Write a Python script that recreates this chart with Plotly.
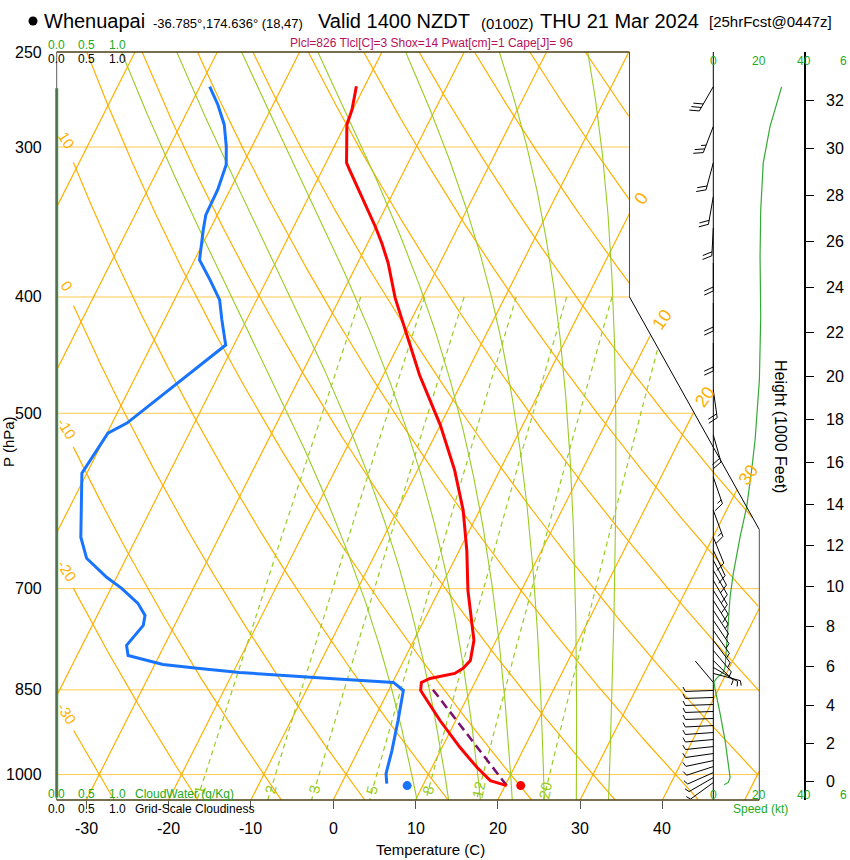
import numpy as np
import plotly.graph_objects as go

# ---------------- values ----------------
temp_p = [267.0, 279.2, 287.4, 309.2, 313.4, 329.9, 349.4, 360.6, 374.7, 400.7,
          426.1, 464.6, 511.5, 557.6, 602.2, 650.3, 702.3, 743.9, 773.0, 803.4,
          815.7, 823.6, 831.6, 838.0, 851.0, 867.5, 901.5, 949.5, 986.7, 1011.6, 1021.4]
temp_c = [-41.0, -40.1, -39.8, -37.5, -36.7, -33.6, -30.1, -28.3, -26.3, -23.3,
          -20.1, -15.6, -10.0, -5.5, -2.0, 0.9, 3.5, 5.8, 7.3, 8.1,
          7.7, 7.0, 4.3, 3.5, 3.9, 5.3, 8.1, 12.2, 15.5, 17.9, 20.2]
dew_p = [267.2, 276.6, 287.4, 299.8, 310.4, 325.6, 341.7, 351.6, 372.5, 387.1,
         402.3, 418.0, 438.6, 469.1, 478.2, 509.5, 519.4, 536.6, 560.9, 634.2,
         660.4, 684.9, 699.5, 720.0, 736.8, 751.1, 780.5, 795.7, 809.6, 815.7,
         822.1, 831.6, 838.0, 851.0, 901.5, 955.0, 998.1, 1017.4]
dew_c = [-58.8, -56.7, -54.7, -53.1, -52.0, -51.5, -51.4, -50.8, -49.4, -46.9,
         -44.5, -43.0, -41.0, -44.2, -45.2, -48.2, -49.9, -50.2, -50.6, -46.8,
         -44.8, -41.2, -38.7, -35.8, -34.2, -33.8, -34.6, -33.8, -29.0, -24.3,
         -19.2, -7.9, 0.1, 1.8, 3.0, 4.1, 4.8, 5.5]
parcel_p = [1021.4, 842.9]
parcel_c = [20.2, 4.7]
sfc_p = [1021.4]
sfc_t = [21.9]
sfc_td = [8.1]

spd_p = [267.3, 288.3, 309.3, 338.3, 370.1, 415.3, 469.0, 526.3, 557.5, 598.3,
         633.8, 680.0, 710.9, 762.3, 813.2, 821.1, 831.1, 837.1, 847.3, 889.5,
         936.8, 980.0, 1005.4, 1015.2, 1019.6]
spd_kt = [30.1, 25.0, 22.0, 20.9, 20.6, 20.9, 20.3, 18.4, 16.9, 14.7,
          11.8, 8.8, 7.4, 6.2, 5.2, 4.4, 1.5, 0.3, 0.7, 3.0,
          5.2, 6.6, 7.4, 6.6, 4.8]

barb_p = [267.2, 288.4, 309.2, 330.0, 350.3, 374.7, 404.6, 436.9, 478.2, 521.4, 565.2, 602.2,
          634.2, 650.3, 662.9, 675.8, 688.9, 702.3, 715.9, 729.7, 743.9, 758.3, 773.0, 788.1,
          803.4, 814.2, 823.6, 838.0,
          851.0, 862.5, 874.2, 886.0, 898.0, 910.2, 922.5, 935.0, 947.7, 960.5, 973.5, 984.8,
          996.2, 1005.8, 1015.5]
barb_dir = [210, 201, 195, 190, 183, 180, 180, 180, 172, 164, 161, 160,
            158, 155, 152, 150, 150, 148, 148, 147, 146, 145, 143, 140,
            135, 120, 105, 320,
            268, 268, 268, 268, 268, 267, 266, 265, 264, 262, 258, 252,
            246, 240, 234]
barb_kt = [30, 25, 22, 21, 21, 20.5, 21, 20.6, 20, 18.6, 16.5, 14.5,
           12, 10.7, 9.9, 9.1, 8.4, 7.8, 7.3, 6.9, 6.6, 6.3, 6.0, 5.7,
           5.4, 5.1, 4.0, 0.3,
           0.9, 1.7, 2.3, 2.8, 3.4, 3.9, 4.5, 5.1, 5.6, 6.0, 6.4, 6.8,
           7.1, 7.4, 6.6]

cw_p = [268.0, 1045.0]
cw_val = [0.0, 0.0]

isotherm_vals = list(range(-70, 60, 10))
isotherm_labels = [0, 10, 20, 30]
theta_vals = list(range(-40, 130, 10))
theta_labels = [10, 0, -10, -20, -30]
thetaw_vals = [8, 12, 16, 20, 24, 28, 32]
mixr_vals = [1, 2, 3, 5, 8, 12, 20]
isobar_vals = [300, 400, 500, 700, 850, 1000]
p_ticks = [250, 300, 400, 500, 700, 850, 1000]
t_ticks = [-30, -20, -10, 0, 10, 20, 30, 40]
height_kft = list(range(0, 34, 2))
speed_ticks = [0, 20, 40]
speed_edge_label = "6"
cloud_ticks = ["0.0", "0.5", "1.0"]

station = "Whenuapai"
coords = "-36.785°,174.636° (18,47)"
valid = "Valid 1400 NZDT"
utc = "(0100Z)"
date = "THU 21 Mar 2024"
fcst = "[25hrFcst@0447z]"
indices = "Plcl=826 Tlcl[C]=3 Shox=14 Pwat[cm]=1 Cape[J]= 96"

# ---------------- geometry ----------------
W, H = 850, 860
PX_L, PX_R, PY_T, PY_B = 56.7, 759.3, 52.0, 800.0
P_TOP, P_BOT = 250.0, 1050.0
DEG_PX, X0_PX = 8.23, 333.2
XL = (PX_L - X0_PX) / DEG_PX
XR = (PX_R - X0_PX) / DEG_PX
XT = (629.5 - X0_PX) / DEG_PX
SKEW = 32.0
PC1, PC2 = 400.0, 625.0
LN_PX = (PY_B - PY_T) / np.log(P_BOT / P_TOP)
SPD_PX, SPD0_PX = 2.27, 713.3
CLD_PX, CLD0_PX = 60.5, 56.7
FONT = "Liberation Sans, Arial, sans-serif"
ORANGE = "#FFB000"
ISOBAR = "#FFC850"
YG = "#99CC22"


def skx(T, p):
    return np.asarray(T, float) + SKEW * np.log(P_BOT / np.asarray(p, float))


def xmax_of(p):
    p = np.asarray(p, float)
    f = np.clip((np.log(p) - np.log(PC1)) / (np.log(PC2) - np.log(PC1)), 0, 1)
    return XT + (XR - XT) * f


def ypx(p):
    return PY_T + LN_PX * np.log(np.asarray(p, float) / P_TOP)


def clip_pts(X, p, xmin=None):
    X = np.asarray(X, float)
    p = np.asarray(p, float)
    ok = X <= xmax_of(p) + 1e-9
    if xmin is not None:
        ok &= X >= xmin
    xs = [float(a) if k else None for a, k in zip(X, ok)]
    ys = [float(b) if k else None for b, k in zip(p, ok)]
    return xs + [None], ys + [None]


PGRID = np.exp(np.linspace(np.log(P_TOP), np.log(P_BOT), 700))

fig = go.Figure()
anns = []


def ann_px(text, x, y, size, color="black", xa="center", ya="middle", angle=0):
    anns.append(dict(text=text, x=x / W, y=1 - y / H, xref="paper", yref="paper",
                     xanchor=xa, yanchor=ya, showarrow=False, textangle=angle,
                     font=dict(size=size, color=color, family=FONT)))


def ann_data(text, X, p, size, color, angle=0, xs=0, ys=0):
    anns.append(dict(text=text, x=float(X), y=float(np.log10(p)), xref="x", yref="y",
                     showarrow=False, textangle=angle, xshift=xs, yshift=ys,
                     font=dict(size=size, color=color, family=FONT)))


# isobars
bx, by = [], []
for pv in isobar_vals:
    bx += [XL, float(xmax_of(pv)), None]
    by += [pv, pv, None]
fig.add_trace(go.Scatter(x=bx, y=by, mode="lines", line=dict(color=ISOBAR, width=1),
                         hoverinfo="skip", showlegend=False))

# isotherms
ix, iy = [], []
for T in isotherm_vals:
    a, b = clip_pts(skx(np.full_like(PGRID, T), PGRID), PGRID)
    ix += a
    iy += b
# dry adiabats
for th in theta_vals:
    Tk = (th + 273.15) * (PGRID / 1000.0) ** 0.2857 - 273.15
    X = skx(Tk, PGRID)
    a, b = clip_pts(X, PGRID, xmin=(XL + 2.0) if th in theta_labels else None)
    ix += a
    iy += b
    if th in theta_labels:
        xt = XL + 1.1
        order = np.argsort(X)
        pl = np.interp(xt, X[order], PGRID[order])
        ann_data(str(th), xt, pl, 15, ORANGE, angle=58, xs=1, ys=3)
fig.add_trace(go.Scatter(x=ix, y=iy, mode="lines", line=dict(color=ORANGE, width=1.2),
                         hoverinfo="skip", showlegend=False))

# isotherm labels where lines meet the right boundary
for T in isotherm_labels:
    lo, hi = np.log(P_TOP), np.log(P_BOT)
    for _ in range(60):
        mid = 0.5 * (lo + hi)
        pm = np.exp(mid)
        if skx(T, pm) > xmax_of(pm):
            lo = mid
        else:
            hi = mid
    pe = np.exp(hi)
    ann_data(str(T), skx(T, pe), pe, 18, ORANGE, angle=-55, xs=11, ys=15)


# moist adiabats
def dTdp(T, p):
    es = 6.112 * np.exp(17.67 * (T - 273.15) / (T - 29.65))
    rs = 0.622 * es / (p - es)
    num = 287.04 * T + 2.501e6 * rs
    den = 1005.7 + (2.501e6 ** 2) * rs * 0.622 / (287.04 * T * T)
    return num / (p * den)


def integrate(T0, p0, p1, n):
    ps = np.linspace(p0, p1, n)
    Ts = [T0]
    T = T0
    for i in range(n - 1):
        h = ps[i + 1] - ps[i]
        p = ps[i]
        k1 = dTdp(T, p)
        k2 = dTdp(T + h * k1 / 2, p + h / 2)
        k3 = dTdp(T + h * k2 / 2, p + h / 2)
        k4 = dTdp(T + h * k3, p + h)
        T = T + h * (k1 + 2 * k2 + 2 * k3 + k4) / 6
        Ts.append(T)
    return ps, np.array(Ts)


mx, my = [], []
for tw in thetaw_vals:
    pu, Tu = integrate(tw + 273.15, 1000.0, P_TOP, 300)
    pd, Td = integrate(tw + 273.15, 1000.0, P_BOT, 20)
    pp = np.concatenate([pu[::-1], pd[1:]])
    TT = np.concatenate([Tu[::-1], Td[1:]]) - 273.15
    a, b = clip_pts(skx(TT, pp), pp)
    mx += a
    my += b
fig.add_trace(go.Scatter(x=mx, y=my, mode="lines", line=dict(color=YG, width=1.1),
                         hoverinfo="skip", showlegend=False))

# mixing ratio lines
wx, wy = [], []
pw = np.exp(np.linspace(np.log(400.0), np.log(P_BOT), 200))
for w in mixr_vals:
    e = w * pw / (622.0 + w)
    lg = np.log(e / 6.112)
    Tw = 243.5 * lg / (17.67 - lg)
    a, b = clip_pts(skx(Tw, pw), pw)
    wx += a
    wy += b
    pl = 1030.0
    el = w * pl / (622.0 + w)
    ll = np.log(el / 6.112)
    ann_data(str(w), skx(243.5 * ll / (17.67 - ll), pl), pl, 15, YG, angle=-78)
fig.add_trace(go.Scatter(x=wx, y=wy, mode="lines", line=dict(color=YG, width=1.2, dash="5px,4px"),
                         hoverinfo="skip", showlegend=False))

# parcel, temperature, dew point
fig.add_trace(go.Scatter(x=skx(parcel_c, parcel_p), y=parcel_p, mode="lines",
                         line=dict(color="#7B1070", width=2.5, dash="9px,5px"), showlegend=False))
fig.add_trace(go.Scatter(x=skx(temp_c, temp_p), y=temp_p, mode="lines",
                         line=dict(color="#FF0000", width=3), showlegend=False))
fig.add_trace(go.Scatter(x=skx(dew_c, dew_p), y=dew_p, mode="lines",
                         line=dict(color="#1874FF", width=3), showlegend=False))
fig.add_trace(go.Scatter(x=skx(sfc_t, sfc_p), y=sfc_p, mode="markers",
                         marker=dict(color="#FF0000", size=9), showlegend=False))
fig.add_trace(go.Scatter(x=skx(sfc_td, sfc_p), y=sfc_p, mode="markers",
                         marker=dict(color="#1874FF", size=9), showlegend=False))

# cloud water (x4 axis)
fig.add_trace(go.Scatter(x=cw_val, y=cw_p, xaxis="x4", yaxis="y", mode="lines",
                         line=dict(color="#22AA22", width=3), showlegend=False))

# wind speed (x2 axis)
fig.add_trace(go.Scatter(x=[0, 0], y=[P_TOP, P_BOT], xaxis="x2", yaxis="y", mode="lines",
                         line=dict(color="black", width=1), showlegend=False))
fig.add_trace(go.Scatter(x=spd_kt, y=spd_p, xaxis="x2", yaxis="y", mode="lines",
                         line=dict(color="#33AA33", width=1.2), showlegend=False))

# wind barbs
L, FL, SP = 28.0, 10.0, 4.0
ca, sa = np.cos(np.radians(65)), np.sin(np.radians(65))
wbx, wby = [], []


def to_ax(p, dx, dy):
    return dx / SPD_PX, p * np.exp(dy / LN_PX)


for p, d, s in zip(barb_p, barb_dir, barb_kt):
    r = np.radians(d)
    ux, uy = np.sin(r), -np.cos(r)
    fx, fy = ux * ca - uy * sa, ux * sa + uy * ca
    tx, ty = L * ux, L * uy
    for (dx, dy) in [(0, 0), (tx, ty)]:
        a, b = to_ax(p, dx, dy)
        wbx.append(a)
        wby.append(b)
    wbx.append(None)
    wby.append(None)
    n5 = int(round(s / 5.0))
    if n5 == 0 and s >= 0.5:
        n5 = 1
    full, half = divmod(n5, 2)
    k = 0
    for i in range(full + half):
        ln_ = FL if i < full else FL / 2
        sx, sy = tx - k * SP * ux, ty - k * SP * uy
        for (dx, dy) in [(sx, sy), (sx + ln_ * fx, sy + ln_ * fy)]:
            a, b = to_ax(p, dx, dy)
            wbx.append(a)
            wby.append(b)
        wbx.append(None)
        wby.append(None)
        k += 1
fig.add_trace(go.Scatter(x=wbx, y=wby, xaxis="x2", yaxis="y", mode="lines",
                         line=dict(color="black", width=1), showlegend=False))

# height axis (y2) - standard atmosphere
h_p = [1013.25 * (1 - 2.25577e-5 * h * 304.8) ** 5.25588 for h in height_kft]
fig.add_trace(go.Scatter(x=[0], y=[500], yaxis="y2", mode="markers",
                         marker=dict(opacity=0), hoverinfo="skip", showlegend=False))


# ---------------- frame shapes ----------------
def seg(x0, y0, x1, y1, color, width):
    return dict(type="line", xref="paper", yref="paper", x0=x0 / W, y0=1 - y0 / H,
                x1=x1 / W, y1=1 - y1 / H, line=dict(color=color, width=width))


xt_px = X0_PX + DEG_PX * XT
shapes = [
    seg(PX_L, PY_T, PX_L, PY_B, "#606060", 1),
    seg(PX_L, PY_T, xt_px, PY_T, "#4A3C14", 1.5),
    seg(xt_px, PY_T, xt_px, float(ypx(PC1)), "#505050", 1),
    seg(xt_px, float(ypx(PC1)), PX_R, float(ypx(PC2)), "black", 1),
    seg(PX_R, float(ypx(PC2)), PX_R, PY_B, "#505050", 1),
    seg(PX_L, PY_B, PX_R, PY_B, "#4A3C14", 1.5),
    dict(type="circle", xref="paper", yref="paper", x0=28.5 / W, x1=37.5 / W,
         y0=1 - 25.5 / H, y1=1 - 16.5 / H, fillcolor="black", line=dict(width=0)),
]

# ---------------- texts ----------------
ann_px(station, 42, 21, 20, xa="left")
ann_px(coords, 151, 23, 13, xa="left")
ann_px(valid, 316, 21, 20, xa="left")
ann_px(utc, 479, 23, 15, xa="left")
ann_px(date, 538, 21, 20, xa="left")
ann_px(fcst, 707, 22, 15, xa="left")
ann_px(indices, 432, 43, 12, color="#B8105A")

for i, t in enumerate(cloud_ticks):
    xx = CLD0_PX + CLD_PX * float(t)
    ann_px(t, xx, 44.5, 12, color="#22AA22")
    ann_px(t, xx, 59.5, 12, color="black")
    ann_px(t, xx, 794, 12, color="#22AA22")
    ann_px(t, xx, 809, 12, color="black")
ann_px("CloudWater (g/Kg)", 133, 794, 12, color="#22AA22", xa="left")
ann_px("Grid-Scale Cloudiness", 133, 809, 12, color="black", xa="left")

for s in speed_ticks:
    xx = SPD0_PX + SPD_PX * s
    ann_px(str(s), xx, 61, 12, color="#22AA22")
    ann_px(str(s), xx, 794.5, 12, color="#22AA22")
ann_px(speed_edge_label, 849, 61, 12, color="#22AA22", xa="right")
ann_px(speed_edge_label, 849, 794.5, 12, color="#22AA22", xa="right")
ann_px("Speed (kt)", 760, 809, 12, color="#22AA22")

for pv in p_ticks:
    ann_px(str(pv), 44, float(ypx(pv)), 16, xa="right")
ann_px("P (hPa)", 9, 442, 15, angle=-90)

for t in t_ticks:
    ann_px(str(t), X0_PX + DEG_PX * t, 828, 16)
ann_px("Temperature (C)", 430, 849, 15)

for h, pv in zip(height_kft, h_p):
    ann_px(str(h), 824, float(ypx(pv)), 16, xa="left")
ann_px("Height (1000 Feet)", 781, 426, 16, angle=90)

fig.update_layout(
    width=W, height=H, margin=dict(l=0, r=0, t=0, b=0),
    paper_bgcolor="white", plot_bgcolor="rgba(0,0,0,0)", showlegend=False,
    xaxis=dict(domain=[PX_L / W, PX_R / W], range=[XL, XR], showgrid=False, zeroline=False,
               showline=False, tickvals=t_ticks, ticks="outside", ticklen=8, tickcolor="#555",
               showticklabels=False, fixedrange=True),
    yaxis=dict(domain=[1 - PY_B / H, 1 - PY_T / H], type="log",
               range=[np.log10(P_BOT), np.log10(P_TOP)], showgrid=False, zeroline=False,
               showline=False, showticklabels=False, ticks="", fixedrange=True),
    xaxis2=dict(domain=[0, 1], anchor="y", range=[-SPD0_PX / SPD_PX, (W - SPD0_PX) / SPD_PX],
                visible=False, fixedrange=True),
    xaxis4=dict(domain=[0, 1], anchor="y", range=[-CLD0_PX / CLD_PX, (W - CLD0_PX) / CLD_PX],
                visible=False, fixedrange=True),
    yaxis2=dict(overlaying="y", anchor="free", position=804.5 / W, side="right", type="log",
                range=[np.log10(P_BOT), np.log10(P_TOP)], showgrid=False, zeroline=False,
                showline=True, linecolor="black", linewidth=2, tickvals=h_p, ticks="outside",
                ticklen=8, tickcolor="black", showticklabels=False, fixedrange=True),
    shapes=shapes, annotations=anns,
)
fig.write_html("out.html", config={"displayModeBar": False},
               post_script="document.body.style.margin='0px';document.body.style.padding='0px';"
                           "document.body.style.overflow='hidden';")
